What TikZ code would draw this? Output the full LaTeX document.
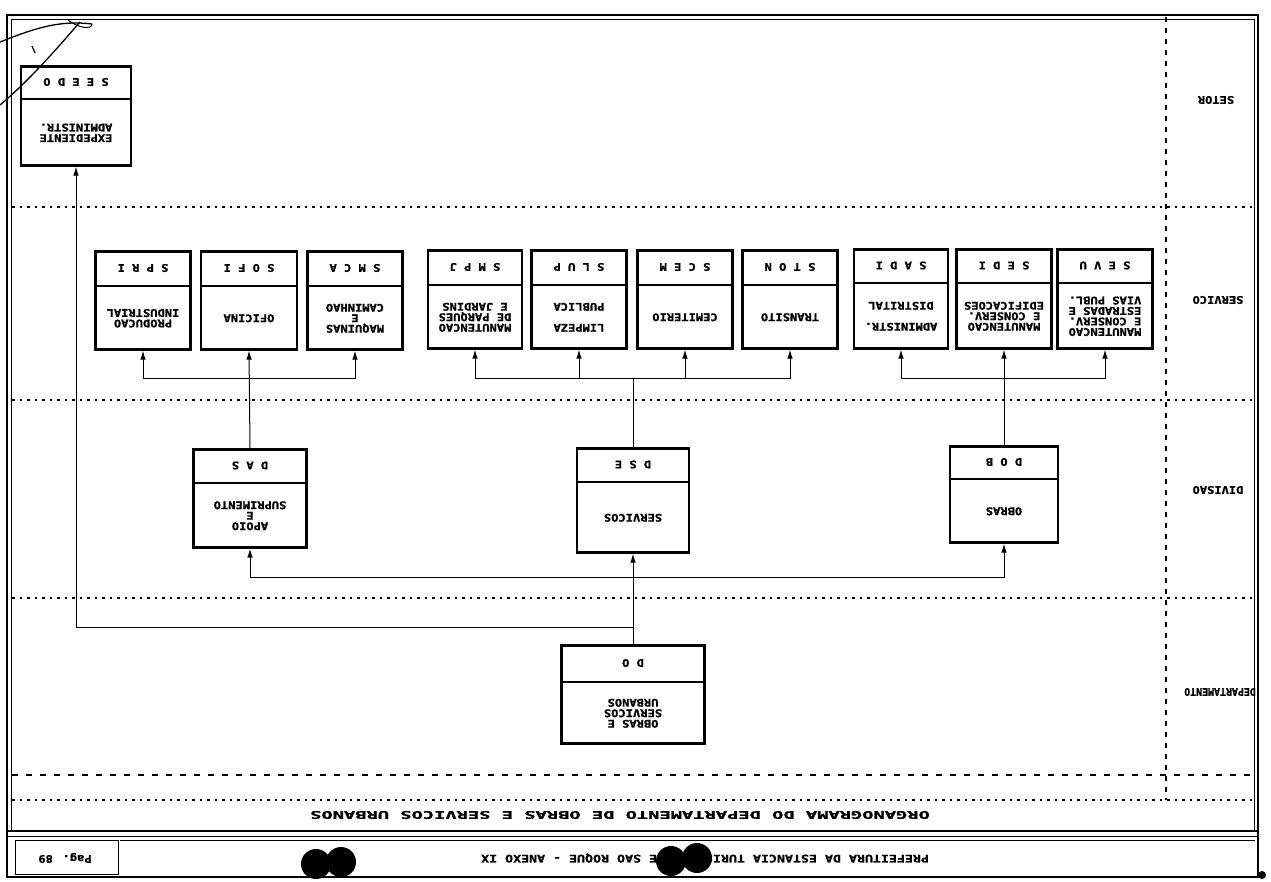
\documentclass[tikz,border=0pt]{standalone}
\usepackage{fontspec}
\usetikzlibrary{arrows.meta,calc}
\newfontfamily\pmono[FakeStretch=1.15,FakeBold=1.2]{DejaVu Sans Mono Bold}
\newcommand\ft{\pmono\fontsize{10.5}{10.5}\selectfont}
\newcommand\obox[8]{%
  \node[box, minimum width=#4pt, minimum height=#5pt, anchor=north] (#1) at (#2,#3) {};
  \coordinate (#1-h) at ([yshift=-#6pt]#1.north);
  \draw[boxline] (#1-h -| #1.west) -- (#1-h -| #1.east);
  \node[txt] (#1-code) at ($(#1.north)!.5!(#1-h)$) {#7};
  \node[txt] (#1-body) at ($(#1-h)!.5!(#1.south)$) {#8};
}
\begin{document}
\begin{tikzpicture}[x=1pt,y=-1pt,
  box/.style={draw, line width=2.6pt, inner sep=0pt, rectangle},
  boxline/.style={line width=1.8pt},
  txt/.style={rotate=180, font=\ft, align=center, inner sep=0pt},
  lbl/.style={rotate=180, font=\ft, inner sep=0pt},
  conn/.style={line width=1pt, -{Latex[length=9pt,width=5.5pt]}},
  plain/.style={line width=1pt},
  rowline/.style={line width=1.1pt, dash pattern=on 2.5pt off 5pt},
  frame/.style={line width=1.8pt}]
\useasboundingbox (0,0) rectangle (1271,881);
% frame
\draw[frame] (7,15) rectangle (1258,877);
\draw[line width=0.6pt] (11,19) -- (1254,19);
\draw[line width=0.6pt] (11,19) -- (11,830);
\draw[line width=0.6pt] (1254,19) -- (1254,830);
% row separators
\draw[rowline] (12,207) -- (1256,207);
\draw[rowline] (12,400) -- (1256,400);
\draw[rowline] (12,598) -- (1256,598);
\draw[rowline, dash pattern=on 6pt off 8pt] (12,775) -- (1256,775);
\draw[rowline] (12,800) -- (1256,800);
\draw[rowline, dash pattern=on 5pt off 6pt, line width=1.4pt] (1166,17) -- (1166,800);
% title and footer bands
\draw[frame] (7,831) -- (1258,831);
\draw[line width=0.8pt] (7,836) -- (1258,836);
\draw[line width=1pt] (15,840) rectangle (118,874);
\draw[line width=0.8pt] (120,840) -- (1255,840);
\node[lbl] (title) at (620,815) {\scalebox{1.55}[1]{ORGANOGRAMA DO DEPARTAMENTO DE OBRAS E SERVICOS URBANOS}};
\node[lbl] (footer) at (705,858) {\scalebox{1.1}[1]{PREFEITURA DA ESTANCIA TURISTICA DE SAO ROQUE  - ANEXO IX}};
\node[lbl] (pag) at (65,858) {Pag. 89};
% row labels
\node[lbl] (lsetor) at (1216,100) {SETOR};
\node[lbl] (lserv) at (1218,300) {SERVICO};
\node[lbl] (ldiv) at (1218,490) {DIVISAO};
\node[lbl] (ldep) at (1220,692) {\scalebox{0.82}[1]{DEPARTAMENTO}};
% boxes
\obox{sedo}{76}{65}{110}{99}{34}{S E E D O}{EXPEDIENTE\\ADMINISTR.}
\obox{spri}{143}{250}{95}{98}{36}{S P R I}{PRODUCAO\\INDUSTRIAL}
\obox{sofi}{249}{250}{96}{98}{36}{S O F I}{OFICINA}
\obox{smca}{355}{250}{95}{98}{36}{S M C A}{MAQUINAS\\E\\CAMINHAO}
\obox{smpj}{475}{249}{94}{98}{36}{S M P J}{MANUTENCAO\\DE PARQUES\\E JARDINS}
\obox{slup}{579}{249}{95}{98}{36}{S L U P}{LIMPEZA\\\\PUBLICA}
\obox{scem}{685}{249}{95}{98}{36}{S C E M}{CEMITERIO}
\obox{strn}{790}{249}{95}{98}{36}{S T O N}{TRANSITO}
\obox{sadi}{901}{248}{94}{99}{35}{S A D I}{ADMINISTR.\\\\DISTRITAL}
\obox{sedi}{1004}{248}{95}{99}{35}{S E D I}{MANUTENCAO\\E CONSERV.\\EDIFICACOES}
\obox{sevu}{1105}{248}{95}{99}{35}{S E V U}{MANUTENCAO\\E CONSERV.\\ESTRADAS E\\VIAS PUBL.}
\obox{das}{250}{448}{113}{98}{35}{D A S}{APOIO\\E\\SUPRIMENTO}
\obox{dse}{633}{447}{112}{104}{35}{D S E}{SERVICOS}
\obox{dob}{1004}{445}{108}{96}{34}{D O B}{OBRAS}
\obox{do}{633}{644}{143}{98}{38}{D O}{OBRAS E\\SERVICOS\\URBANOS}
% connectors: department level
\coordinate (jdo) at (633,627);
\coordinate (jdiv) at (633,577);
\draw[conn] (do.north) -- (dse.south);
\draw[conn] (jdo) -| (sedo.south);
\draw[conn] (jdiv) -| (das.south);
\draw[conn] (jdiv) -| (dob.south);
% connectors: services
\coordinate (b1) at (249,378);
\coordinate (b2) at (633,378);
\coordinate (b3) at (1004,378);
\draw[conn] (das.north) -- (sofi.south);
\draw[conn] (b1) -| (spri.south);
\draw[conn] (b1) -| (smca.south);
\draw[plain] (dse.north) -- (b2);
\draw[conn] (b2) -| (smpj.south);
\draw[conn] (b2) -| (slup.south);
\draw[conn] (b2) -| (scem.south);
\draw[conn] (b2) -| (strn.south);
\draw[conn] (dob.north) -- (sedi.south);
\draw[conn] (b3) -| (sadi.south);
\draw[conn] (b3) -| (sevu.south);
% scan artefacts: punch marks and pen stroke
\fill (316,864) circle (15);
\fill (341,862) circle (15);
\fill (671,861) circle (15);
\fill (697,858) circle (15);
\fill (1262,875) circle (4);
\draw[line width=1.3pt] (0,42) .. controls (35,28) and (60,20) .. (92,24);
\draw[line width=1pt] (68,20) .. controls (78,28) and (92,30) .. (92,24);
\draw[line width=1.3pt] (0,105) .. controls (30,80) and (60,45) .. (80,22);
\draw[line width=1.2pt] (32,46) -- (35,53);
\end{tikzpicture}
\end{document}
